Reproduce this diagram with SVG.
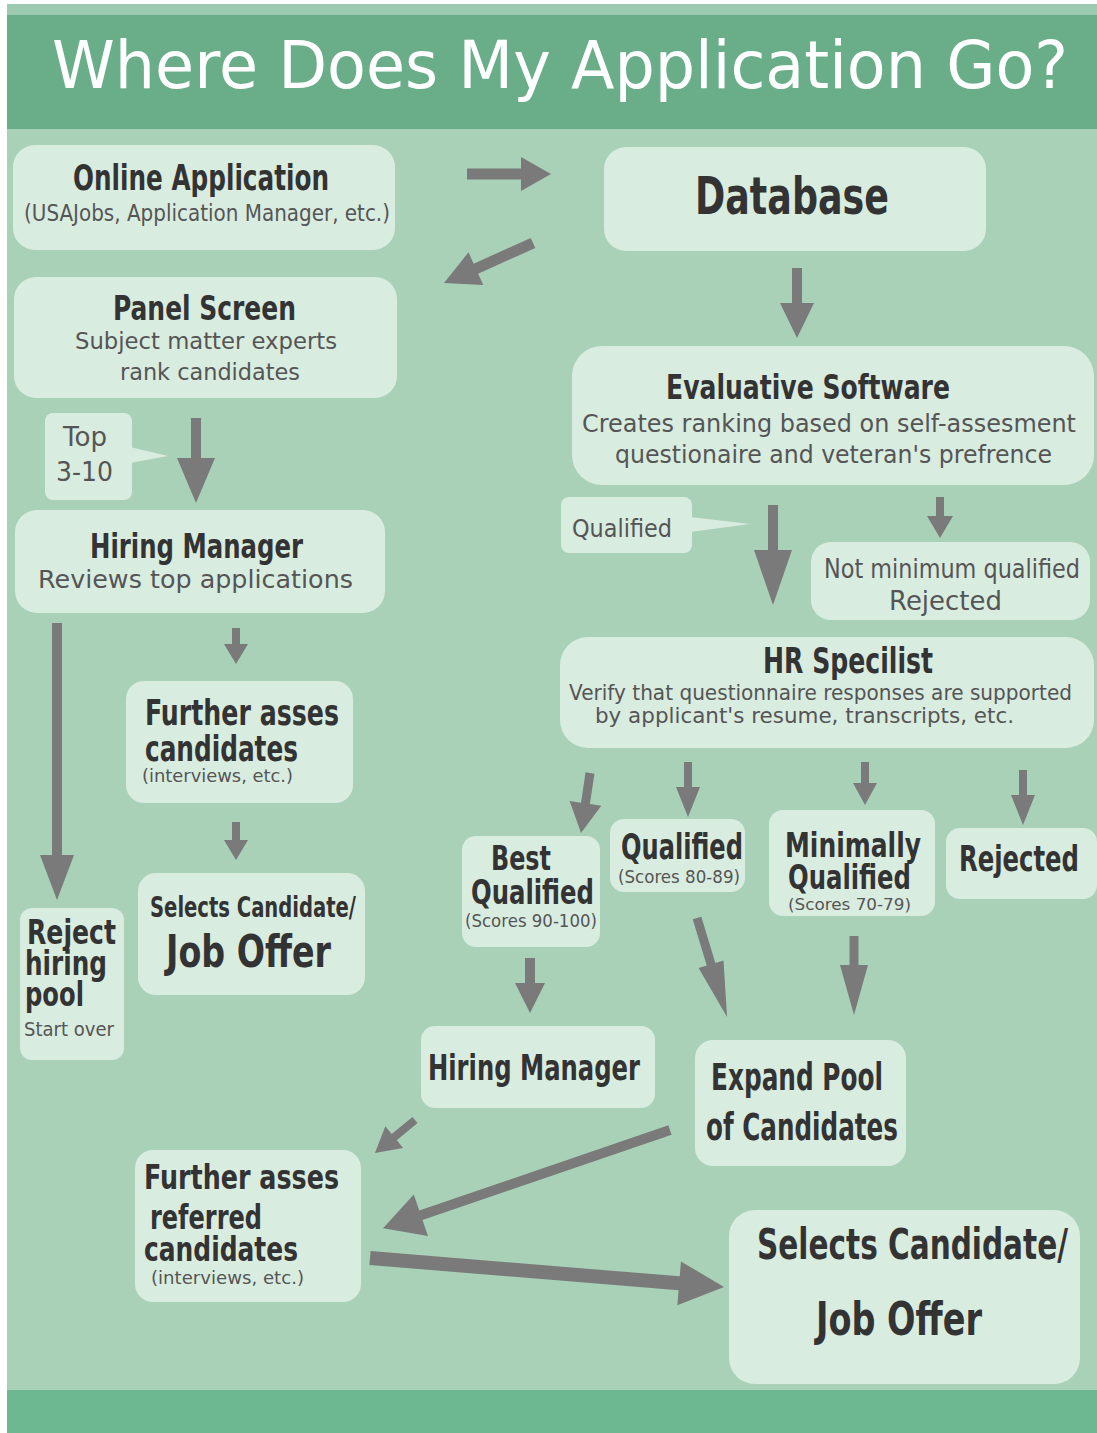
<svg xmlns="http://www.w3.org/2000/svg" width="1097" height="1433" viewBox="0 0 1097 1433">
<style>
.box{fill:#d9ece0}
.h{font-family:"DejaVu Sans Condensed","DejaVu Sans",sans-serif;font-weight:bold;fill:#333}
.b{font-family:"DejaVu Sans","Open Sans",sans-serif;fill:#555}
.bc{font-family:"DejaVu Sans Condensed","DejaVu Sans",sans-serif;fill:#555}
.arr{fill:#7a7a7a}
</style>
<rect x="0" y="0" width="1097" height="1433" fill="#ffffff"/>
<rect x="7" y="4" width="1090" height="1429" fill="#a9d1b7"/>
<rect x="7" y="4" width="1090" height="11" fill="#9ccbb2"/>
<rect x="7" y="15" width="1090" height="114" fill="#6aae89"/>
<rect x="7" y="1390" width="1090" height="43" fill="#6eb891"/>
<text x="52" y="88" font-family="DejaVu Sans, sans-serif" font-size="66" fill="#ffffff" textLength="1016" lengthAdjust="spacingAndGlyphs">Where Does My Application Go?</text>

<g id="online-application">
<rect class="box" x="13" y="145" width="382" height="105" rx="22"/>
<text class="h" x="73" y="190" font-size="35" textLength="256" lengthAdjust="spacingAndGlyphs">Online Application</text>
<text class="bc" x="24" y="221" font-size="23" textLength="366" lengthAdjust="spacingAndGlyphs">(USAJobs, Application Manager, etc.)</text>
</g>
<g id="database">
<rect class="box" x="604" y="147" width="382" height="104" rx="22"/>
<text class="h" x="695" y="214" font-size="51" textLength="194" lengthAdjust="spacingAndGlyphs">Database</text>
</g>
<g id="panel-screen">
<rect class="box" x="14" y="277" width="383" height="121" rx="22"/>
<text class="h" x="113" y="320" font-size="33" textLength="183" lengthAdjust="spacingAndGlyphs">Panel Screen</text>
<text class="b" x="75" y="349" font-size="23" textLength="262" lengthAdjust="spacingAndGlyphs">Subject matter experts</text>
<text class="b" x="120" y="380" font-size="23" textLength="180" lengthAdjust="spacingAndGlyphs">rank candidates</text>
</g>
<g id="top-label">
<rect class="box" x="45" y="413" width="87" height="87" rx="8"/>
<polygon class="box" points="130,447 168,456 130,463"/>
<text class="b" x="63" y="446" font-size="26" textLength="44" lengthAdjust="spacingAndGlyphs">Top</text>
<text class="b" x="56" y="481" font-size="26" textLength="57" lengthAdjust="spacingAndGlyphs">3-10</text>
</g>
<g id="hiring-manager">
<rect class="box" x="15" y="510" width="370" height="103" rx="22"/>
<text class="h" x="90" y="558" font-size="33" textLength="213" lengthAdjust="spacingAndGlyphs">Hiring Manager</text>
<text class="b" x="38" y="588" font-size="25" textLength="315" lengthAdjust="spacingAndGlyphs">Reviews top applications</text>
</g>
<g id="further-asses">
<rect class="box" x="126" y="681" width="227" height="122" rx="18"/>
<text class="h" x="145" y="725" font-size="35" textLength="194" lengthAdjust="spacingAndGlyphs">Further asses</text>
<text class="h" x="145" y="761" font-size="35" textLength="153" lengthAdjust="spacingAndGlyphs">candidates</text>
<text class="b" x="142" y="782" font-size="17" textLength="151" lengthAdjust="spacingAndGlyphs">(interviews, etc.)</text>
</g>
<g id="job-offer-1">
<rect class="box" x="138" y="873" width="227" height="122" rx="18"/>
<text class="h" x="150" y="917" font-size="28" textLength="206" lengthAdjust="spacingAndGlyphs">Selects Candidate/</text>
<text class="h" x="166" y="967" font-size="45" textLength="165" lengthAdjust="spacingAndGlyphs">Job Offer</text>
</g>
<g id="reject-pool">
<rect class="box" x="20" y="908" width="104" height="152" rx="12"/>
<text class="h" x="27" y="944" font-size="33" textLength="89" lengthAdjust="spacingAndGlyphs">Reject</text>
<text class="h" x="25" y="975" font-size="33" textLength="82" lengthAdjust="spacingAndGlyphs">hiring</text>
<text class="h" x="25" y="1006" font-size="33" textLength="59" lengthAdjust="spacingAndGlyphs">pool</text>
<text class="b" x="24" y="1036" font-size="20" textLength="90" lengthAdjust="spacingAndGlyphs">Start over</text>
</g>
<g id="evaluative-software">
<rect class="box" x="572" y="346" width="522" height="139" rx="30"/>
<text class="h" x="666" y="399" font-size="34" textLength="284" lengthAdjust="spacingAndGlyphs">Evaluative Software</text>
<text class="b" x="582" y="432" font-size="25" textLength="494" lengthAdjust="spacingAndGlyphs">Creates ranking based on self-assesment</text>
<text class="b" x="615" y="463" font-size="25" textLength="437" lengthAdjust="spacingAndGlyphs">questionaire and veteran's prefrence</text>
</g>
<g id="qualified-label">
<rect class="box" x="561" y="497" width="131" height="56" rx="8"/>
<polygon class="box" points="690,517 750,524 690,532"/>
<text class="b" x="572" y="537" font-size="25" textLength="100" lengthAdjust="spacingAndGlyphs">Qualified</text>
</g>
<g id="not-minimum">
<rect class="box" x="811" y="542" width="279" height="78" rx="20"/>
<text class="b" x="824" y="578" font-size="27" textLength="256" lengthAdjust="spacingAndGlyphs">Not minimum qualified</text>
<text class="b" x="889" y="610" font-size="27" textLength="113" lengthAdjust="spacingAndGlyphs">Rejected</text>
</g>
<g id="hr-specilist">
<rect class="box" x="560" y="637" width="534" height="111" rx="28"/>
<text class="h" x="763" y="673" font-size="35" textLength="170" lengthAdjust="spacingAndGlyphs">HR Specilist</text>
<text class="b" x="569" y="700" font-size="22" textLength="503" lengthAdjust="spacingAndGlyphs">Verify that questionnaire responses are supported</text>
<text class="b" x="595" y="723" font-size="22" textLength="419" lengthAdjust="spacingAndGlyphs">by applicant's resume, transcripts, etc.</text>
</g>
<g id="best-qualified">
<rect class="box" x="462" y="836" width="138" height="111" rx="14"/>
<text class="h" x="491" y="870" font-size="34" textLength="60" lengthAdjust="spacingAndGlyphs">Best</text>
<text class="h" x="471" y="904" font-size="34" textLength="123" lengthAdjust="spacingAndGlyphs">Qualified</text>
<text class="bc" x="465" y="927" font-size="17" textLength="132" lengthAdjust="spacingAndGlyphs">(Scores 90-100)</text>
</g>
<g id="qualified">
<rect class="box" x="610" y="819" width="135" height="73" rx="14"/>
<text class="h" x="621" y="859" font-size="35" textLength="122" lengthAdjust="spacingAndGlyphs">Qualified</text>
<text class="bc" x="618" y="883" font-size="17" textLength="122" lengthAdjust="spacingAndGlyphs">(Scores 80-89)</text>
</g>
<g id="minimally-qualified">
<rect class="box" x="769" y="810" width="166" height="106" rx="14"/>
<text class="h" x="785" y="857" font-size="34" textLength="136" lengthAdjust="spacingAndGlyphs">Minimally</text>
<text class="h" x="788" y="889" font-size="34" textLength="123" lengthAdjust="spacingAndGlyphs">Qualified</text>
<text class="bc" x="788" y="910" font-size="16" textLength="123" lengthAdjust="spacingAndGlyphs">(Scores 70-79)</text>
</g>
<g id="rejected">
<rect class="box" x="946" y="828" width="151" height="71" rx="14"/>
<text class="h" x="959" y="871" font-size="35" textLength="120" lengthAdjust="spacingAndGlyphs">Rejected</text>
</g>
<g id="hiring-manager-2">
<rect class="box" x="421" y="1026" width="234" height="82" rx="14"/>
<text class="h" x="428" y="1080" font-size="36" textLength="212" lengthAdjust="spacingAndGlyphs">Hiring Manager</text>
</g>
<g id="expand-pool">
<rect class="box" x="695" y="1040" width="211" height="126" rx="18"/>
<text class="h" x="711" y="1090" font-size="37" textLength="172" lengthAdjust="spacingAndGlyphs">Expand Pool</text>
<text class="h" x="706" y="1140" font-size="37" textLength="192" lengthAdjust="spacingAndGlyphs">of Candidates</text>
</g>
<g id="further-referred">
<rect class="box" x="135" y="1150" width="226" height="152" rx="18"/>
<text class="h" x="144" y="1189" font-size="34" textLength="195" lengthAdjust="spacingAndGlyphs">Further asses</text>
<text class="h" x="150" y="1229" font-size="34" textLength="112" lengthAdjust="spacingAndGlyphs">referred</text>
<text class="h" x="144" y="1261" font-size="34" textLength="154" lengthAdjust="spacingAndGlyphs">candidates</text>
<text class="bc" x="151" y="1284" font-size="18" textLength="153" lengthAdjust="spacingAndGlyphs">(interviews, etc.)</text>
</g>
<g id="job-offer-2">
<rect class="box" x="729" y="1210" width="351" height="174" rx="26"/>
<text class="h" x="757" y="1259" font-size="42" textLength="311" lengthAdjust="spacingAndGlyphs">Selects Candidate/</text>
<text class="h" x="816" y="1335" font-size="46" textLength="166" lengthAdjust="spacingAndGlyphs">Job Offer</text>
</g>

<g id="connectors" class="arr">
<g transform="translate(467,174) rotate(0)"><path d="M0,-5.5 L54,-5.5 L54,-17 L84,0 L54,17 L54,5.5 L0,5.5 Z"/></g>
<g transform="translate(533,243) rotate(155.8)"><path d="M0,-5.5 L62.6,-5.5 L62.6,-18 L97.6,0 L62.6,18 L62.6,5.5 L0,5.5 Z"/></g>
<g transform="translate(797,268) rotate(90)"><path d="M0,-5 L35,-5 L35,-17 L70,0 L35,17 L35,5 L0,5 Z"/></g>
<g transform="translate(196,418) rotate(90)"><path d="M0,-5 L40,-5 L40,-19 L85,0 L40,19 L40,5 L0,5 Z"/></g>
<g transform="translate(57,623) rotate(90)"><path d="M0,-5 L232,-5 L232,-17 L277,0 L232,17 L232,5 L0,5 Z"/></g>
<g transform="translate(236,628) rotate(90)"><path d="M0,-4 L16,-4 L16,-12 L36,0 L16,12 L16,4 L0,4 Z"/></g>
<g transform="translate(236,822) rotate(90)"><path d="M0,-4 L18,-4 L18,-12 L38,0 L18,12 L18,4 L0,4 Z"/></g>
<g transform="translate(773,505) rotate(90)"><path d="M0,-5 L45,-5 L45,-19 L100,0 L45,19 L45,5 L0,5 Z"/></g>
<g transform="translate(940,497) rotate(90)"><path d="M0,-4 L19,-4 L19,-13 L41,0 L19,13 L19,4 L0,4 Z"/></g>
<g transform="translate(590,773) rotate(98.5)"><path d="M0,-4.5 L30.7,-4.5 L30.7,-16 L60.7,0 L30.7,16 L30.7,4.5 L0,4.5 Z"/></g>
<g transform="translate(688,762) rotate(90)"><path d="M0,-4 L25,-4 L25,-12 L55,0 L25,12 L25,4 L0,4 Z"/></g>
<g transform="translate(865,762) rotate(90)"><path d="M0,-4 L21,-4 L21,-12 L43,0 L21,12 L21,4 L0,4 Z"/></g>
<g transform="translate(1023,770) rotate(90)"><path d="M0,-4 L25,-4 L25,-12 L55,0 L25,12 L25,4 L0,4 Z"/></g>
<g transform="translate(530,958) rotate(90)"><path d="M0,-5 L25,-5 L25,-15 L55,0 L25,15 L25,5 L0,5 Z"/></g>
<g transform="translate(697,918) rotate(73.1)"><path d="M0,-4.5 L48.4,-4.5 L48.4,-13 L103.4,0 L48.4,13 L48.4,4.5 L0,4.5 Z"/></g>
<g transform="translate(854,936) rotate(90)"><path d="M0,-4.5 L29,-4.5 L29,-14 L79,0 L29,14 L29,4.5 L0,4.5 Z"/></g>
<g transform="translate(415,1120) rotate(140.5)"><path d="M0,-4 L26.9,-4 L26.9,-14 L51.9,0 L26.9,14 L26.9,4 L0,4 Z"/></g>
<g transform="translate(670,1130) rotate(161.1)"><path d="M0,-5 L263.3,-5 L263.3,-22 L303.3,0 L263.3,22 L263.3,5 L0,5 Z"/></g>
<g transform="translate(370,1258) rotate(4.68)"><path d="M0,-7 L310.2,-7 L310.2,-22 L355.2,0 L310.2,22 L310.2,7 L0,7 Z"/></g>
</g>
</svg>
